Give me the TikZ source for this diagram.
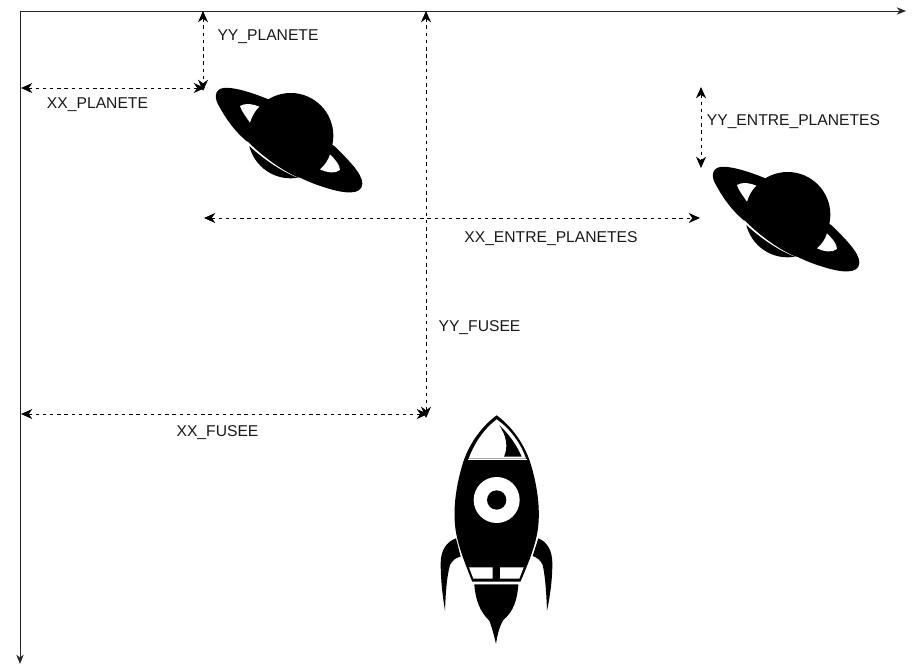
\documentclass[tikz,border=0pt]{standalone}
\usepackage{fontspec}
\setmainfont{Liberation Sans}
\usetikzlibrary{arrows.meta}
\tikzset{
  axis/.style={draw=black!85,line width=0.7pt,-{Stealth[length=7pt,width=5.5pt]}},
  dim/.style={draw=black,line width=0.7pt,dash pattern=on 2.6pt off 2.8pt,{Stealth[length=8.5pt,width=7.5pt]}-{Stealth[length=8.5pt,width=7.5pt]}},
  lab/.style={anchor=base,inner sep=0pt,font=\fontsize{11.75pt}{13pt}\selectfont,text=black!90},
  ink/.style={fill=black,draw=none},
  paper/.style={fill=white,draw=none}
}
\newcommand{\planetshape}{%
  % ring
  \path[ink] (205,88) .. controls (150,65) and (95,50) .. (70,54)
     .. controls (43,58) and (42,85) .. (58,110)
     .. controls (80,150) and (105,185) .. (145,218)
     .. controls (200,265) and (280,325) .. (380,354)
     .. controls (430,370) and (487,378) .. (487,340)
     .. controls (487,310) and (440,265) .. (405,230) -- cycle;
  % globe
  \path[ink] (272,197) circle[radius=128];
  % lower part of the globe, set apart by a white line
  \path[paper] (142,214) .. controls (190,262) and (250,305) .. (302,326)
     .. controls (250,308) and (190,268) .. (142,222) -- cycle;
  % gaps in the ring
  \path[paper] (120,108) .. controls (135,98) and (160,102) .. (178,110)
     .. controls (165,122) and (155,140) .. (150,158)
     .. controls (138,140) and (125,125) .. (120,108) -- cycle;
  \path[paper] (390,253) .. controls (405,268) and (420,285) .. (420,300)
     .. controls (405,312) and (380,308) .. (360,298)
     .. controls (375,285) and (385,270) .. (390,253) -- cycle;
}
\begin{document}
\begin{tikzpicture}[x=0.75pt,y=-0.75pt]
\useasboundingbox[fill=white] (0,0) rectangle (916,666);

% named ends of the axes and measures
\coordinate (origin) at (20,11);
\coordinate (xend) at (906,11);
\coordinate (yend) at (20,664);
\coordinate (xpa) at (21,88);
\coordinate (xpb) at (205,88);
\coordinate (ypa) at (203,11);
\coordinate (ypb) at (203,91);
\coordinate (yfa) at (426,11);
\coordinate (yfb) at (426,418);
\coordinate (xfa) at (21,414);
\coordinate (xfb) at (428,414);
\coordinate (xea) at (204,218);
\coordinate (xeb) at (700,218);
\coordinate (yea) at (701,87);
\coordinate (yeb) at (701,168);

\draw[axis] (origin) -- (xend);
\draw[axis] (origin) -- (yend);
\draw[dim] (xpa) -- (xpb);
\draw[dim] (ypa) -- (ypb);
\draw[dim] (yfa) -- (yfb);
\draw[dim] (xfa) -- (xfb);
\draw[dim] (xea) -- (xeb);
\draw[dim] (yea) -- (yeb);

\node[lab] (lxp) at (97.5,109) {XX\_PLANETE};
\node[lab] (lyp) at (268,40.5) {YY\_PLANETE};
\node[lab] (lye) at (793.5,126) {YY\_ENTRE\_PLANETES};
\node[lab] (lxe) at (551,242.5) {XX\_ENTRE\_PLANETES};
\node[lab] (lyf) at (479.5,331) {YY\_FUSEE};
\node[lab] (lxf) at (217.5,436.5) {XX\_FUSEE};

% planets
\begin{scope}[shift={(200,70)},x=0.25pt,y=-0.25pt]
\planetshape
\end{scope}
\begin{scope}[shift={(697,149)},x=0.25pt,y=-0.25pt]
\planetshape
\end{scope}

% rocket (coordinates are 3 x pixels, from the corner 420,400)
\begin{scope}[shift={(420,400)},x=0.25pt,y=-0.25pt]
  % body
  \path[ink] (230,46) .. controls (190,75) and (150,125) .. (130,185)
     .. controls (108,255) and (100,320) .. (105,375)
     .. controls (110,430) and (135,490) .. (158,548)
     -- (300,548)
     .. controls (325,490) and (350,430) .. (355,375)
     .. controls (360,320) and (352,255) .. (330,185)
     .. controls (310,125) and (270,75) .. (230,46) -- cycle;
  % nose
  \path[paper] (230,58) .. controls (195,85) and (165,125) .. (146,176)
     -- (318,176) .. controls (300,125) and (268,85) .. (230,58) -- cycle;
  \path[ink] (238,76) .. controls (265,100) and (290,135) .. (305,170)
     -- (252,170) .. controls (266,140) and (258,105) .. (238,76) -- cycle;
  \path[ink] (140,180) rectangle (325,186);
  \path[paper] (143,177) rectangle (320,181);
  % porthole
  \path[paper] (230,300) circle[radius=69];
  \path[ink] (230,300) circle[radius=29];
  % lower windows
  \path[paper] (147,502) -- (218,502) -- (218,536) -- (160,536) -- cycle;
  \path[paper] (240,502) -- (311,502) -- (298,536) -- (240,536) -- cycle;
  % white line round the base
  \path[paper] (155,545) -- (303,545) -- (300,553) -- (158,553) -- cycle;
  % flame
  \path[ink] (163,553) -- (295,553)
     .. controls (292,600) and (280,635) .. (250,660)
     .. controls (238,680) and (232,705) .. (228,732)
     .. controls (222,705) and (215,680) .. (208,662)
     .. controls (180,635) and (166,600) .. (163,553) -- cycle;
  % fins
  \path[ink] (108,415) .. controls (80,425) and (62,450) .. (62,490)
     .. controls (62,540) and (68,590) .. (75,632)
     .. controls (77,580) and (80,530) .. (90,495)
     .. controls (97,480) and (110,472) .. (122,470) -- cycle;
  \path[ink] (355,415) .. controls (380,425) and (397,450) .. (397,490)
     .. controls (397,540) and (390,590) .. (381,632)
     .. controls (379,580) and (376,530) .. (368,495)
     .. controls (362,480) and (350,472) .. (338,468) -- cycle;
\end{scope}
\end{tikzpicture}
\end{document}
